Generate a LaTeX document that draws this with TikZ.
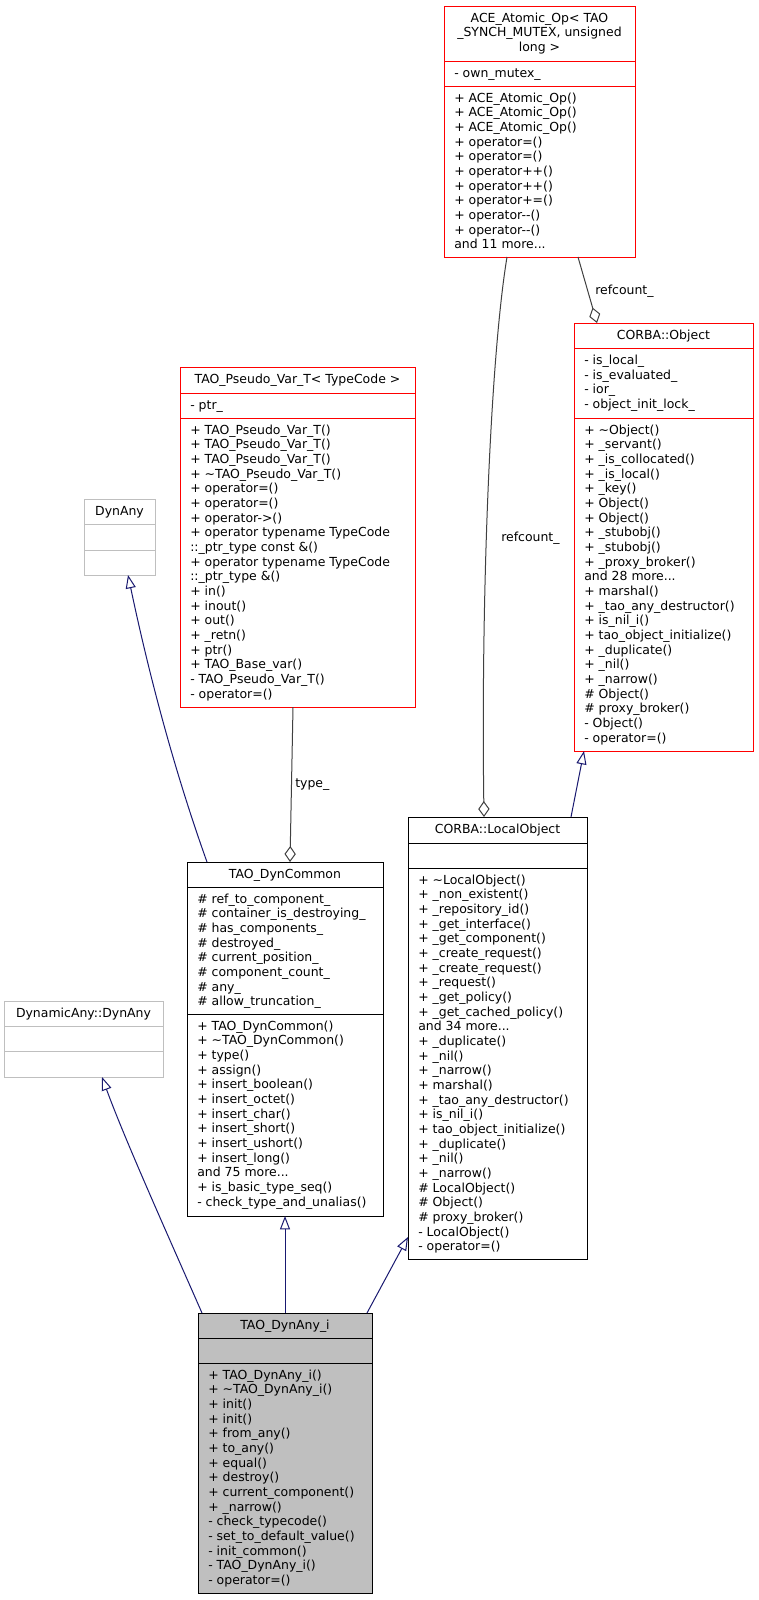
\documentclass[tikz,border=0pt]{standalone}
\usepackage{fontspec}
\setmainfont{DejaVu Sans}
\usetikzlibrary{arrows.meta,fit}
\definecolor{inhcol}{HTML}{191970}
\definecolor{aggcol}{HTML}{404040}
\definecolor{gboxcol}{HTML}{BFBFBF}
\definecolor{rboxcol}{HTML}{FF0000}
\newcommand\dvfont{\fontsize{9.35pt}{11pt}\selectfont}
\newcommand\tdots{...}
\tikzset{
 cls/.style={draw, inner sep=0pt, outer sep=0pt, line width=0.75pt},
 redcls/.style={cls, draw=rboxcol},
 blkcls/.style={cls, draw=black},
 graycls/.style={cls, draw=gboxcol},
 selcls/.style={cls, draw=black, fill=gboxcol},
 redsep/.style={draw=rboxcol, line width=0.75pt},
 blksep/.style={draw=black, line width=0.75pt},
 graysep/.style={draw=gboxcol, line width=0.75pt},
 txt/.style={anchor=base west, inner sep=0pt, font=\dvfont},
 ttl/.style={anchor=base, inner sep=0pt, font=\dvfont},
 inhedge/.style={draw=inhcol, line width=0.75pt, -{Triangle[open, length=10pt, width=7.5pt]}},
 aggedge/.style={draw=aggcol, line width=0.75pt, -{Diamond[open, length=12pt, width=8.5pt]}},
 elabel/.style={anchor=base west, inner sep=0pt, font=\dvfont},
}
\newcommand\mlines[4]{\foreach \itm [count=\idx] in {#4}{\node[txt] (#1\idx) at (#2,{#3+(\idx-1)*14.667}) {\itm};}}
\newcommand\tlines[4]{\foreach \itm [count=\idx] in {#4}{\node[ttl] (#1\idx) at (#2,{#3+(\idx-1)*14.667}) {\itm};}}
\begin{document}
\begin{tikzpicture}[x=0.75pt,y=-0.75pt]
\path[fill=white] (0,0) rectangle (759,1600);
\useasboundingbox (0,0) rectangle (759,1600);

% ACE_Atomic_Op
\node[redcls, fit={(444,6) (635,257)}] (ace) {};
\draw[redsep] (444,61) -- (635,61);
\draw[redsep] (444,86) -- (635,86);
\tlines{aceT}{539.5}{22.3}{ACE\_Atomic\_Op< TAO, {\_SYNCH\_MUTEX, unsigned}, long >}
\mlines{aceA}{454}{77.3}{- own\_mutex\_}
\mlines{aceM}{454}{102.3}{+ ACE\_Atomic\_Op(), + ACE\_Atomic\_Op(), + ACE\_Atomic\_Op(), + operator=(), + operator=(), + operator++(), + operator++(), + operator+=(), + operator-{}-(), + operator-{}-(), and 11 more\tdots}

% CORBA::Object
\node[redcls, fit={(574,323) (753,751)}] (obj) {};
\draw[redsep] (574,348) -- (753,348);
\draw[redsep] (574,418) -- (753,418);
\tlines{objT}{663.5}{339.3}{CORBA::Object}
\mlines{objA}{584}{364.5}{- is\_local\_, - is\_evaluated\_, - ior\_, - object\_init\_lock\_}
\mlines{objM}{584}{434.3}{+ \textasciitilde Object(), + \_servant(), + \_is\_collocated(), + \_is\_local(), + \_key(), + Object(), + Object(), + \_stubobj(), + \_stubobj(), + \_proxy\_broker(), and 28 more\tdots, + marshal(), + \_tao\_any\_destructor(), + is\_nil\_i(), + tao\_object\_initialize(), + \_duplicate(), + \_nil(), + \_narrow(), \# Object(), \# proxy\_broker(), - Object(), - operator=()}

% TAO_Pseudo_Var_T
\node[redcls, fit={(180,367) (415,707)}] (pvt) {};
\draw[redsep] (180,393) -- (415,393);
\draw[redsep] (180,418) -- (415,418);
\tlines{pvtT}{297.5}{383.3}{TAO\_Pseudo\_Var\_T< TypeCode >}
\mlines{pvtA}{190}{409.3}{- ptr\_}
\mlines{pvtM}{190}{434.3}{+ TAO\_Pseudo\_Var\_T(), + TAO\_Pseudo\_Var\_T(), + TAO\_Pseudo\_Var\_T(), + \textasciitilde TAO\_Pseudo\_Var\_T(), + operator=(), + operator=(), + operator->(), + operator typename TypeCode, ::\_ptr\_type const \&(), + operator typename TypeCode, ::\_ptr\_type \&(), + in(), + inout(), + out(), + \_retn(), + ptr(), + TAO\_Base\_var(), - TAO\_Pseudo\_Var\_T(), - operator=()}

% DynAny
\node[graycls, fit={(84,499) (155,575)}] (dynany) {};
\draw[graysep] (84,524) -- (155,524);
\draw[graysep] (84,550) -- (155,550);
\tlines{dynanyT}{119.5}{515.3}{DynAny}

% TAO_DynCommon
\node[blkcls, fit={(187,862) (383,1216)}] (dc) {};
\draw[blksep] (187,887) -- (383,887);
\draw[blksep] (187,1014) -- (383,1014);
\tlines{dcT}{285}{878.3}{TAO\_DynCommon}
\mlines{dcA}{197}{903.3}{\# ref\_to\_component\_, \# container\_is\_destroying\_, \# has\_components\_, \# destroyed\_, \# current\_position\_, \# component\_count\_, \# any\_, \# allow\_truncation\_}
\mlines{dcM}{197}{1030.3}{+ TAO\_DynCommon(), + \textasciitilde TAO\_DynCommon(), + type(), + assign(), + insert\_boolean(), + insert\_octet(), + insert\_char(), + insert\_short(), + insert\_ushort(), + insert\_long(), and 75 more\tdots, + is\_basic\_type\_seq(), - check\_type\_and\_unalias()}

% CORBA::LocalObject
\node[blkcls, fit={(408,817) (587,1259)}] (lo) {};
\draw[blksep] (408,843) -- (587,843);
\draw[blksep] (408,868) -- (587,868);
\tlines{loT}{497.5}{833.3}{CORBA::LocalObject}
\mlines{loM}{418}{884.3}{+ \textasciitilde LocalObject(), + \_non\_existent(), + \_repository\_id(), + \_get\_interface(), + \_get\_component(), + \_create\_request(), + \_create\_request(), + \_request(), + \_get\_policy(), + \_get\_cached\_policy(), and 34 more\tdots, + \_duplicate(), + \_nil(), + \_narrow(), + marshal(), + \_tao\_any\_destructor(), + is\_nil\_i(), + tao\_object\_initialize(), + \_duplicate(), + \_nil(), + \_narrow(), \# LocalObject(), \# Object(), \# proxy\_broker(), - LocalObject(), - operator=()}

% DynamicAny::DynAny
\node[graycls, fit={(4,1001) (163,1077)}] (dda) {};
\draw[graysep] (4,1026) -- (163,1026);
\draw[graysep] (4,1051) -- (163,1051);
\tlines{ddaT}{83.5}{1017.3}{DynamicAny::DynAny}

% TAO_DynAny_i
\node[selcls, fit={(198,1313) (372,1593)}] (dai) {};
\draw[blksep] (198,1338) -- (372,1338);
\draw[blksep] (198,1363) -- (372,1363);
\tlines{daiT}{285}{1329.3}{TAO\_DynAny\_i}
\mlines{daiM}{208}{1379.3}{+ TAO\_DynAny\_i(), + \textasciitilde TAO\_DynAny\_i(), + init(), + init(), + from\_any(), + to\_any(), + equal(), + destroy(), + current\_component(), + \_narrow(), - check\_typecode(), - set\_to\_default\_value(), - init\_common(), - TAO\_DynAny\_i(), - operator=()}

% attachment points
\coordinate (dcTL) at (207,862);
\coordinate (dynanyB) at (128,575);
\coordinate (pvtB) at (293,707);
\coordinate (dcTD) at (290,862);
\coordinate (aceB1) at (507,257);
\coordinate (loTD) at (484,817);
\coordinate (aceB2) at (578,257);
\coordinate (objTD) at (597,323);
\coordinate (loTR) at (571,817);
\coordinate (objB) at (584,751);
\coordinate (daiTL) at (202,1313);
\coordinate (ddaB) at (102,1077);
\coordinate (daiTR) at (367,1313);
\coordinate (loBL) at (408,1237);

% connectors
\draw[inhedge] (dcTL) .. controls (173,767) and (148,670) .. (dynanyB);
\draw[aggedge] (pvtB) -- (dcTD);
\node[elabel] (typelbl) at (295,787.5) {type\_};
\draw[aggedge] (aceB1) .. controls (490,360) and (481,600) .. (loTD);
\node[elabel] (rclbl1) at (501,541) {refcount\_};
\draw[aggedge] (aceB2) -- (objTD);
\node[elabel] (rclbl2) at (595,294.3) {refcount\_};
\draw[inhedge] (loTR) -- (objB);
\draw[inhedge] (daiTL) .. controls (170,1240) and (125,1140) .. (ddaB);
\draw[inhedge] (dai.north) -- (dc.south);
\draw[inhedge] (daiTR) -- (loBL);
\end{tikzpicture}
\end{document}
